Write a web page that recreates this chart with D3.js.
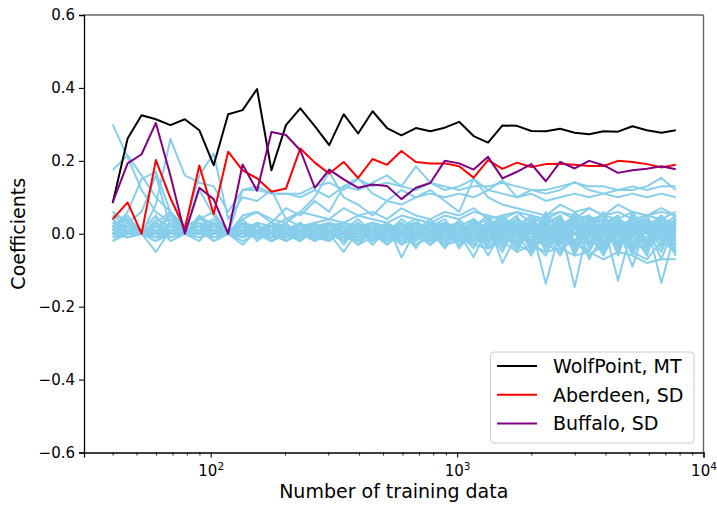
<!DOCTYPE html>
<html>
<head>
<meta charset="utf-8">
<script src="https://cdn.jsdelivr.net/npm/d3@7/dist/d3.min.js"></script>
<style>
  html, body { margin: 0; padding: 0; background: #fff; }
  svg { display: block; font-family: "DejaVu Sans", sans-serif; }
</style>
</head>
<body>
<svg id="chart" width="717" height="505"></svg>
<script>
// ---------- DATA ----------
const trainingSizes = [40, 46, 52.4, 59.9, 68.6, 78.5, 89.9, 102.8, 117.7, 134.7,
  154.2, 176.4, 202, 231, 264.5, 302.7, 346.5, 396.5, 453.9, 519.4,
  594.3, 680.2, 778.5, 890.9, 1019.5, 1166.7, 1335.3, 1528, 1749, 2001,
  2291, 2621, 3000, 3434, 3930, 4498, 5147, 5891, 6742, 7716];

const wolfPoint = [0.084, 0.261, 0.325, 0.314, 0.298, 0.314, 0.284, 0.188, 0.328, 0.339,
  0.397, 0.174, 0.298, 0.344, 0.295, 0.243, 0.328, 0.275, 0.336, 0.290,
  0.270, 0.290, 0.281, 0.291, 0.307, 0.268, 0.250, 0.297, 0.296, 0.282,
  0.281, 0.288, 0.277, 0.273, 0.281, 0.280, 0.295, 0.284, 0.277, 0.284];

const aberdeen = [0.040, 0.086, 0.000, 0.202, 0.098, 0.013, 0.187, 0.054, 0.225, 0.174,
  0.152, 0.115, 0.124, 0.234, 0.195, 0.165, 0.197, 0.153, 0.205, 0.189,
  0.227, 0.197, 0.193, 0.193, 0.185, 0.154, 0.202, 0.178, 0.195, 0.183,
  0.191, 0.192, 0.189, 0.186, 0.186, 0.200, 0.197, 0.191, 0.182, 0.189];

const buffalo = [0.086, 0.193, 0.218, 0.304, 0.160, 0.000, 0.126, 0.095, 0.000, 0.190,
  0.118, 0.279, 0.271, 0.229, 0.126, 0.176, 0.149, 0.126, 0.135, 0.131,
  0.095, 0.126, 0.139, 0.200, 0.193, 0.176, 0.211, 0.152, 0.170, 0.191,
  0.144, 0.197, 0.179, 0.200, 0.188, 0.167, 0.174, 0.178, 0.185, 0.177];

const otherStations = [
  [0.30,0.21,0.12,0.06,0.03,0.00,0.02,0.01,0.00,0.01, 0.02,0.01,0.00,-0.01,0.01,0.02,0.00,-0.01,0.01,0.00, 0.02,0.01,-0.01,0.00,0.02,0.01,-0.02,0.01,0.03,0.00, -0.02,0.01,0.02,-0.01,0.00,0.03,0.01,-0.02,0.01,0.00],
  [0.175,0.215,0.16,0.10,0.06,0.02,0.04,0.03,0.00,0.02, 0.01,0.03,0.02,0.00,0.01,0.03,0.02,0.01,0.00,0.02, 0.01,-0.01,0.02,0.03,0.00,-0.02,0.02,0.01,0.04,0.02, 0.00,-0.03,0.02,0.03,0.01,-0.01,0.02,0.04,0.00,0.01],
  [0.02,0.05,0.00,0.08,0.26,0.16,0.14,0.13,0.06,0.12, 0.12,0.11,0.11,0.11,0.13,0.14,0.12,0.15,0.13,0.14, 0.13,0.12,0.14,0.13,0.12,0.13,0.13,0.14,0.13,0.12, 0.12,0.13,0.14,0.13,0.13,0.12,0.13,0.12,0.13,0.13],
  [0.05,0.04,0.00,0.03,0.06,0.02,0.16,0.22,0.04,0.10, 0.09,0.12,0.04,0.06,0.10,0.17,0.10,0.08,0.05,0.09, 0.12,0.10,0.11,0.10,0.11,0.10,0.12,0.11,0.10,0.11, 0.09,0.10,0.11,0.10,0.11,0.10,0.11,0.10,0.11,0.10],
  [0.01,0.06,0.15,0.17,0.06,0.00,0.12,0.05,0.00,0.12, 0.13,0.11,0.11,0.10,0.12,0.10,0.13,0.12,0.14,0.16, 0.13,0.185,0.14,0.12,0.13,0.15,0.12,0.147,0.10,0.12, 0.11,0.12,0.142,0.12,0.11,0.12,0.12,0.13,0.153,0.12],
  [0.06,0.03,0.06,0.16,0.02,0.00,0.05,0.02,0.00,0.04, 0.06,0.03,0.07,0.05,0.09,0.06,0.13,0.153,0.11,0.09, 0.08,0.10,0.12,0.09,0.06,0.152,0.10,0.08,0.07,0.06, 0.05,0.08,0.06,0.07,0.05,0.08,0.06,0.05,0.07,0.05],
  [0.00,0.01,0.00,0.02,0.05,0.00,0.04,0.06,0.00,0.05, 0.06,0.04,0.03,0.06,0.05,0.04,0.07,0.05,0.06,0.04, 0.07,0.05,0.04,0.06,0.05,0.07,0.04,0.05,0.06,0.03, 0.05,0.06,0.04,0.07,0.05,0.04,0.06,0.05,0.04,0.06],
  [0.06,0.03,0.00,0.04,0.02,0.00,0.03,0.01,0.00,0.02, 0.01,0.03,0.00,0.02,-0.01,0.01,0.02,-0.02,0.00,0.01, 0.03,-0.01,0.02,0.00,0.01,0.03,-0.02,0.02,0.04,0.01, -0.03,0.02,0.05,0.00,-0.02,0.03,0.01,0.04,-0.01,0.02],
  [0.04,0.01,0.00,-0.05,0.01,0.00,0.02,-0.01,0.00,0.03, -0.02,0.01,0.02,-0.01,0.03,0.00,-0.05,0.01,0.02,-0.01, 0.00,0.02,-0.02,0.01,0.03,-0.03,0.01,-0.04,0.02,0.00, 0.03,-0.02,0.01,0.04,-0.03,0.02,-0.01,0.03,0.00,-0.02],
  [0.02,0.04,0.01,0.00,0.06,0.01,0.00,0.02,0.01,-0.01, 0.02,0.00,0.01,0.03,0.00,-0.02,0.01,0.02,-0.01,0.03, -0.065,0.01,0.00,0.02,-0.01,0.02,0.04,-0.02,0.01,0.05, 0.02,-0.04,0.00,0.02,0.05,-0.03,0.03,0.00,0.04,0.03],
  [0.01,0.00,0.00,0.03,-0.02,0.00,0.05,0.00,0.00,0.01, 0.03,-0.02,0.00,0.01,0.02,0.03,-0.01,0.00,0.03,0.01, 0.02,0.00,0.03,-0.02,0.00,-0.064,0.02,0.03,-0.03,0.02, -0.137,0.01,0.03,-0.02,0.01,0.04,-0.04,0.02,0.03,-0.01],
  [-0.01,0.02,0.01,0.05,0.00,0.00,-0.02,0.03,0.00,0.04, 0.00,0.02,-0.02,0.00,0.01,-0.01,0.03,0.02,0.00,-0.02, 0.01,0.03,0.00,-0.03,0.02,0.01,-0.06,0.01,0.02,-0.03, 0.04,0.02,-0.146,0.03,-0.02,0.00,0.05,-0.03,0.01,0.04],
  [0.00,-0.01,0.00,0.02,0.04,0.00,0.01,-0.02,0.00,0.00, 0.01,0.01,0.03,-0.01,0.00,0.02,0.00,-0.03,0.01,0.02, -0.01,0.00,0.01,0.03,-0.02,0.00,0.03,-0.08,0.00,0.02, -0.02,0.04,0.00,-0.05,0.03,-0.128,0.02,0.00,-0.03,0.02],
  [0.03,0.02,0.00,0.01,0.00,0.01,0.02,0.04,0.00,-0.03, 0.01,-0.01,0.01,0.02,-0.02,0.01,0.02,0.01,-0.02,0.00, 0.02,-0.02,0.01,0.00,0.03,-0.01,0.00,0.02,-0.02,0.03, 0.01,-0.03,0.02,0.01,0.03,-0.02,0.00,0.03,-0.135,0.01],
  [-0.02,0.00,0.01,0.00,0.03,0.00,0.00,0.01,0.00,0.02, -0.01,0.00,0.02,0.00,0.01,-0.01,0.00,0.01,0.02,-0.01, 0.00,0.01,-0.01,0.02,0.00,0.02,-0.01,0.00,0.03,-0.04, 0.00,0.03,-0.02,0.02,-0.04,0.01,0.03,-0.05,0.02,0.00],
  [0.02,0.00,0.00,-0.02,0.01,0.01,0.03,0.00,0.00,0.01, 0.00,0.02,-0.01,0.01,0.00,0.01,-0.02,0.00,0.01,0.02, 0.00,-0.02,0.02,0.00,-0.02,0.03,0.01,-0.03,0.00,0.04, -0.05,0.00,0.03,-0.03,0.02,0.05,-0.02,0.01,0.03,-0.04],
  [0.05,0.02,0.01,0.01,-0.01,0.00,0.01,0.02,0.00,0.00, 0.02,-0.01,0.00,-0.02,0.02,0.00,0.01,0.03,-0.01,0.00, 0.01,0.02,0.00,-0.01,0.01,-0.02,0.02,0.04,-0.01,0.00, 0.03,0.05,-0.03,0.00,0.02,-0.05,0.04,0.02,-0.07,0.03],
  [0.00,0.01,0.00,0.00,0.02,0.00,-0.01,0.00,0.01,0.02, 0.00,0.01,0.01,0.00,-0.02,0.02,0.01,-0.01,0.00,0.03, -0.02,0.01,0.00,0.02,0.00,-0.03,0.00,0.01,-0.05,0.03, 0.00,-0.06,0.02,0.05,-0.01,0.02,-0.09,0.03,0.00,-0.03],
  [0.01,0.03,0.00,0.02,0.01,0.00,0.00,-0.01,0.00,0.01, 0.01,0.00,-0.01,0.02,0.01,0.00,-0.01,0.02,0.00,0.01, 0.03,0.00,-0.03,0.01,0.02,0.00,0.02,-0.02,0.01,0.05, -0.02,0.02,0.04,-0.07,0.00,0.03,0.00,-0.06,0.05,0.01],
  [0.00,0.02,0.01,-0.01,0.00,0.01,0.02,0.01,0.00,0.00, -0.01,0.02,0.00,0.01,0.00,0.02,0.03,0.00,-0.01,0.00, 0.02,0.01,0.03,0.00,-0.01,0.02,-0.03,0.03,0.00,-0.02, 0.06,0.00,-0.04,0.03,0.01,-0.02,0.04,0.00,-0.03,0.05],
  [0.02,-0.01,0.00,0.00,0.01,0.00,0.00,0.02,0.00,-0.01, 0.00,0.00,0.02,-0.01,0.01,0.00,0.01,0.00,0.02,-0.02, 0.01,0.00,0.01,-0.02,0.02,0.00,0.01,0.00,0.04,0.01, 0.02,-0.01,0.06,0.01,-0.03,0.00,0.02,0.04,0.01,-0.06],
  [-0.01,0.00,0.00,0.01,0.00,0.00,0.01,0.00,0.00,0.03, 0.02,0.01,0.00,0.00,0.03,-0.01,0.00,0.02,0.01,0.00, -0.01,0.03,0.00,0.01,0.03,0.01,-0.02,0.02,0.00,-0.06, 0.01,0.03,0.00,0.02,0.06,-0.03,0.01,-0.02,0.04,0.02],
  [0.03,0.01,0.00,0.00,0.00,0.00,0.01,0.03,0.00,0.01, 0.00,-0.02,0.01,0.00,0.00,0.01,-0.01,0.00,0.03,0.01, 0.00,0.00,-0.02,0.02,0.00,0.04,0.00,-0.01,0.02,0.00, -0.04,0.04,0.01,0.00,-0.06,0.02,0.03,0.00,0.02,-0.05],
  [0.00,0.00,0.00,0.01,0.01,0.00,0.00,0.00,0.00,0.00, 0.01,0.00,0.00,0.01,-0.01,0.00,0.02,0.01,0.00,0.01, -0.01,0.02,0.01,0.00,0.02,-0.01,0.03,0.00,-0.03,0.02, 0.03,0.00,-0.02,0.04,0.00,0.01,-0.05,0.03,0.02,0.00],
  [0.01,0.02,0.00,0.03,0.00,0.00,0.02,0.00,0.00,0.02, 0.00,0.01,0.00,0.02,0.00,-0.01,0.01,0.00,-0.02,0.02, 0.00,-0.01,0.00,0.03,0.01,0.00,0.02,0.05,0.01,-0.01, 0.04,-0.02,0.01,0.03,-0.01,0.04,0.00,0.02,-0.02,0.04],
  [-0.02,0.01,0.00,-0.01,0.02,0.00,0.01,-0.02,0.00,0.00, 0.01,0.00,0.01,0.00,0.02,0.01,0.00,-0.01,0.01,0.00, 0.02,0.00,0.02,0.01,-0.03,0.01,0.00,0.03,-0.02,0.01, 0.00,0.05,-0.03,0.00,0.03,-0.04,0.02,0.05,-0.02,0.00],
  [0.04,0.00,0.00,0.02,0.00,0.01,0.00,0.01,0.00,-0.02, 0.00,0.03,0.01,0.00,0.01,0.00,0.02,0.00,0.00,0.02, 0.01,0.00,-0.03,0.00,0.01,0.02,-0.01,0.01,0.03,-0.02, 0.01,0.00,0.03,-0.04,0.02,0.00,0.03,-0.03,0.00,0.03],
  [0.00,0.01,0.00,0.00,0.03,0.00,0.02,0.00,0.00,0.01, 0.02,0.00,0.00,0.02,-0.01,0.02,0.00,0.01,0.01,-0.01, 0.00,0.02,0.00,0.01,0.00,0.01,0.02,-0.02,0.00,0.03, -0.01,0.02,-0.05,0.02,0.04,0.00,-0.01,0.02,0.05,-0.02],
  [0.01,0.00,0.00,0.01,0.00,0.00,0.00,0.02,0.00,0.02, -0.01,0.01,0.02,0.00,0.00,0.03,0.01,0.00,0.00,0.01, 0.02,0.00,0.01,-0.01,0.02,0.00,0.01,0.02,0.00,0.03, 0.02,-0.01,0.00,0.01,0.03,0.02,-0.03,0.01,0.00,0.02],
  [0.02,0.00,0.00,0.00,0.01,0.00,-0.01,0.00,0.00,0.00, 0.02,0.00,-0.01,0.01,0.02,0.00,0.00,-0.01,0.02,0.00, -0.02,0.01,0.02,0.00,-0.02,0.03,0.00,0.00,0.02,-0.03, 0.02,0.01,0.00,-0.02,0.01,0.03,0.00,-0.01,0.03,0.01],
  [0.00,0.03,0.01,0.00,0.00,0.01,0.00,0.00,0.01,0.03, 0.00,-0.01,0.00,0.02,0.00,0.01,-0.02,0.02,0.00,0.00, 0.01,-0.03,0.00,0.02,0.01,-0.02,0.01,0.00,0.03,0.00, -0.01,0.03,0.02,0.00,-0.01,0.02,0.04,0.00,-0.01,0.03],
  [0.01,0.01,0.00,0.02,0.00,0.00,0.01,0.01,0.00,0.00, 0.00,0.02,0.01,-0.01,0.01,0.00,0.01,0.00,-0.01,0.01, 0.00,0.01,0.00,0.00,0.01,0.00,-0.02,0.01,0.02,0.00, 0.01,-0.02,0.03,0.02,0.00,-0.03,0.01,0.03,0.00,-0.01],
  [0.01,0.00,0.00,-0.02,0.00,0.00,0.01,-0.01,0.00,0.01, 0.00,-0.02,0.00,0.00,-0.01,0.01,-0.02,0.00,-0.01,-0.02, 0.00,-0.03,-0.01,-0.02,0.00,-0.03,-0.04,-0.02,-0.05,-0.03, -0.05,-0.04,-0.06,-0.05,-0.07,-0.05,-0.06,-0.08,-0.07,-0.07],
  [0.02,0.01,0.00,0.01,0.02,0.00,0.03,0.02,0.00,0.01, 0.03,0.02,0.04,0.02,0.03,0.04,0.03,0.05,0.04,0.03, 0.05,0.04,0.03,0.05,0.04,0.06,0.05,0.04,0.06,0.05, 0.04,0.06,0.05,0.04,0.05,0.06,0.04,0.05,0.06,0.05],
  [0.00,0.01,0.00,0.00,0.01,0.00,0.00,0.01,0.00,0.00, 0.01,-0.01,0.02,0.00,-0.01,0.02,0.00,-0.02,0.01,0.03, -0.01,0.02,-0.03,0.01,0.03,-0.02,0.04,-0.03,0.02,0.05, -0.02,0.04,-0.04,0.03,0.05,-0.03,0.02,0.04,-0.04,0.03],
  [0.01,0.00,0.00,0.01,0.00,0.00,0.01,0.00,0.00,0.01, -0.01,0.01,0.00,-0.02,0.02,0.01,-0.01,0.03,-0.02,0.00, 0.03,-0.02,0.01,-0.03,0.02,0.04,-0.02,0.03,-0.04,0.01, 0.04,-0.03,0.05,-0.02,-0.04,0.04,-0.03,0.01,0.05,-0.04],
  [0.00,0.00,0.00,0.02,0.00,0.00,0.00,0.00,0.00,0.00, 0.02,0.00,-0.02,0.01,0.03,-0.01,0.02,-0.02,0.01,0.02, -0.03,0.01,0.04,0.00,-0.03,0.02,0.05,-0.01,0.03,-0.05, 0.02,0.05,-0.02,-0.05,0.03,0.05,-0.05,0.04,-0.02,0.04],
  [0.01,0.01,0.00,0.00,0.01,0.00,0.01,0.00,0.00,0.01, 0.00,0.02,0.01,0.03,-0.02,0.00,0.03,0.01,-0.03,0.01, 0.02,0.04,-0.01,0.03,-0.04,0.01,0.02,0.05,-0.03,0.03, -0.04,0.02,0.04,0.05,-0.05,0.02,0.03,-0.04,0.05,-0.03],
  [0.00,0.00,0.00,-0.01,0.00,0.00,0.00,0.01,0.00,-0.01, 0.01,0.00,0.02,-0.02,0.01,0.03,-0.03,0.02,0.03,-0.02, 0.01,-0.04,0.02,0.04,-0.01,0.03,-0.04,0.01,0.04,-0.02, -0.06,0.03,0.02,-0.03,0.04,-0.06,0.05,-0.02,0.03,-0.05],
  [0.02,0.01,0.00,0.01,0.01,0.00,0.02,0.00,0.00,0.02, 0.01,0.03,0.00,0.02,0.01,-0.02,0.01,0.04,0.00,-0.03, 0.02,0.03,-0.02,-0.01,0.04,0.00,-0.03,0.04,0.01,-0.04, 0.05,0.01,-0.03,0.05,0.02,-0.04,0.06,0.00,-0.05,0.04],
  [0.00,0.00,0.00,0.00,-0.01,0.00,0.00,0.00,0.00,0.01, 0.00,-0.01,0.01,0.00,0.02,-0.02,0.02,0.00,0.02,-0.03, 0.00,0.02,0.01,-0.04,0.01,0.03,0.00,-0.05,0.03,0.02, -0.03,-0.05,0.04,0.01,-0.04,0.03,-0.06,0.02,0.04,-0.06],
  [0.01,0.02,0.00,0.01,0.00,0.01,0.00,0.01,0.00,0.00, 0.02,0.01,-0.01,0.03,0.00,0.02,-0.01,0.01,0.03,0.02, 0.00,0.01,0.03,0.02,-0.02,0.04,0.01,0.03,-0.01,0.04, 0.03,-0.02,0.06,0.02,0.04,-0.01,0.05,0.03,0.02,0.05],
  [0.00,-0.01,0.00,0.01,0.01,0.00,0.00,-0.01,0.00,0.00, -0.01,0.00,-0.02,0.00,-0.01,-0.02,0.01,-0.03,-0.01,0.00, -0.03,-0.01,0.00,-0.03,-0.02,0.01,-0.04,-0.01,-0.03,-0.05, 0.00,-0.04,-0.02,-0.06,-0.03,0.00,-0.05,-0.07,-0.02,-0.05],
  [0.01,0.00,0.00,0.00,0.02,0.00,0.01,0.00,0.00,0.00, 0.00,0.02,0.00,-0.01,0.02,0.01,0.00,0.02,-0.02,0.03, 0.01,-0.01,0.03,0.02,0.00,-0.04,0.03,0.02,0.05,-0.03, 0.03,0.00,-0.04,0.04,0.01,0.05,-0.02,-0.05,0.03,0.01],
  [0.02,0.00,0.00,0.00,0.00,0.00,0.01,0.02,0.00,0.01, 0.00,0.01,0.01,0.02,-0.02,0.03,0.01,-0.02,0.02,0.00, 0.04,0.01,-0.02,0.02,0.03,-0.02,0.01,0.04,-0.03,0.02, 0.01,0.04,-0.06,0.03,0.00,0.04,0.02,-0.03,0.04,0.02],
  [0.00,0.01,0.00,0.01,0.00,0.00,0.00,0.00,0.00,0.00, 0.01,-0.02,0.00,0.01,0.00,0.00,-0.02,0.01,0.00,-0.01, -0.02,0.00,0.02,-0.02,0.00,0.01,-0.02,0.00,-0.03,0.01, -0.03,0.01,-0.02,0.00,-0.05,0.01,-0.02,-0.04,0.00,-0.03]
];

const legendLabels = ["WolfPoint, MT", "Aberdeen, SD", "Buffalo, SD"];
const yTicks = [-0.6, -0.4, -0.2, 0.0, 0.2, 0.4, 0.6];
const xMajorTicks = [100, 1000, 10000];
const xTickExponents = ["2", "3", "4"];

// ---------- LAYOUT ----------
const svg = d3.select("#chart");
const plot = { left: 84, right: 703.5, top: 15, bottom: 452.5 };

const x = d3.scaleLog().domain([30.6, 10000]).range([plot.left, plot.right]);
const y = d3.scaleLinear().domain([-0.6, 0.6]).range([plot.bottom, plot.top]);

const line = d3.line()
  .x((d, i) => x(trainingSizes[i]))
  .y(d => y(d));

const g = svg.append("g");

// light blue lines
g.selectAll("path.other")
  .data(otherStations)
  .enter().append("path")
  .attr("class", "other")
  .attr("d", line)
  .attr("fill", "none")
  .attr("stroke", "#87CEEB")
  .attr("stroke-width", 2)
  .attr("stroke-linejoin", "round");

const highlighted = [
  { values: wolfPoint, color: "#000000" },
  { values: aberdeen, color: "#ff0000" },
  { values: buffalo, color: "#800080" }
];
g.selectAll("path.hl")
  .data(highlighted)
  .enter().append("path")
  .attr("class", "hl")
  .attr("d", d => line(d.values))
  .attr("fill", "none")
  .attr("stroke", d => d.color)
  .attr("stroke-width", 2)
  .attr("stroke-linejoin", "round");

// ---------- AXES ----------
svg.append("line").attr("x1", plot.left).attr("x2", plot.right).attr("y1", plot.top).attr("y2", plot.top)
  .attr("stroke", "#666").attr("stroke-width", 1.4);
svg.append("line").attr("x1", plot.right).attr("x2", plot.right).attr("y1", plot.top).attr("y2", plot.bottom)
  .attr("stroke", "#666").attr("stroke-width", 1.4);

const yAxis = d3.axisLeft(y).tickValues(yTicks).tickSize(5).tickPadding(4)
  .tickFormat(d => (d < 0 ? "\u2212" : "") + Math.abs(d).toFixed(1));
const yg = svg.append("g").attr("transform", `translate(${plot.left},0)`).call(yAxis);
yg.select(".domain").attr("stroke", "#000").attr("stroke-width", 1.3);
yg.selectAll(".tick line").attr("stroke", "#000").attr("stroke-width", 1.1);
yg.selectAll(".tick text").attr("font-size", 15).attr("fill", "#000")
  .attr("font-family", "DejaVu Sans");

const minorTicks = [];
[10, 100, 1000].forEach(dec => {
  for (let m = 2; m <= 9; m++) {
    const v = dec * m;
    if (v >= 30.6 && v <= 10000) minorTicks.push(v);
  }
});
const xMinor = d3.axisBottom(x).tickValues(minorTicks).tickSize(3).tickFormat("");
const xmg = svg.append("g").attr("transform", `translate(0,${plot.bottom})`).call(xMinor);
xmg.select(".domain").remove();
xmg.selectAll(".tick line").attr("stroke", "#000").attr("stroke-width", 0.9);

const xAxis = d3.axisBottom(x).tickValues(xMajorTicks).tickSize(5).tickFormat("");
const xg = svg.append("g").attr("transform", `translate(0,${plot.bottom})`).call(xAxis);
xg.select(".domain").attr("stroke", "#000").attr("stroke-width", 1.3);
xg.selectAll(".tick line").attr("stroke", "#000").attr("stroke-width", 1.1);
xg.selectAll(".tick").each(function(d, i) {
  const t = d3.select(this).append("text")
    .attr("y", 23).attr("text-anchor", "middle")
    .attr("font-size", 15).attr("fill", "#000").attr("font-family", "DejaVu Sans");
  t.append("tspan").text("10");
  t.append("tspan").attr("dy", -6).attr("font-size", 10.5).text(xTickExponents[i]);
});

svg.append("text")
  .attr("x", (plot.left + plot.right) / 2).attr("y", 498)
  .attr("text-anchor", "middle").attr("font-size", 19).attr("fill", "#000")
  .text("Number of training data");
svg.append("text")
  .attr("transform", `translate(25,${(plot.top + plot.bottom) / 2}) rotate(-90)`)
  .attr("text-anchor", "middle").attr("font-size", 19).attr("fill", "#000")
  .text("Coefficients");

// ---------- LEGEND ----------
const lg = svg.append("g");
lg.append("rect").attr("x", 490.5).attr("y", 352).attr("width", 203.5).attr("height", 91)
  .attr("rx", 3.5).attr("fill", "#fff").attr("fill-opacity", 0.8)
  .attr("stroke", "#cccccc").attr("stroke-width", 1);
highlighted.forEach((h, i) => {
  const cy = 366 + i * 28.7;
  lg.append("line").attr("x1", 497).attr("x2", 537).attr("y1", cy).attr("y2", cy)
    .attr("stroke", h.color).attr("stroke-width", 2);
  lg.append("text").attr("x", 553).attr("y", cy).attr("dy", "0.36em")
    .attr("font-size", 19).attr("fill", "#000").text(legendLabels[i]);
});
</script>
</body>
</html>
